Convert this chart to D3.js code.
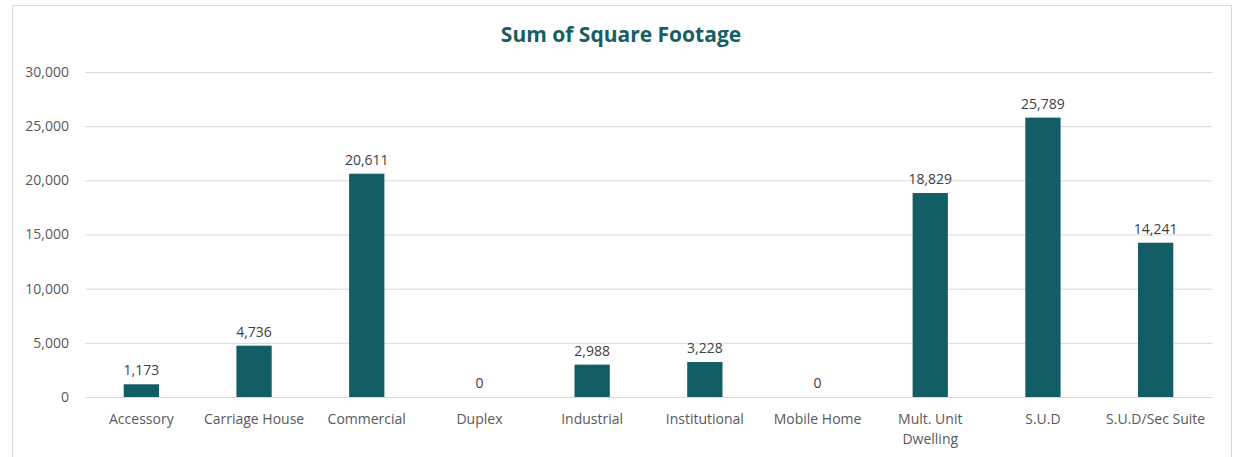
<!DOCTYPE html>
<html>
<head>
<meta charset="utf-8">
<script src="https://cdn.jsdelivr.net/npm/d3@7"></script>
<style>
  body { margin: 0; background: #fff; }
  text { font-family: "Open Sans", "Noto Sans", sans-serif; }
</style>
</head>
<body>
<div id="chart"></div>
<script>
"use strict";

// categories and values
var categories = ["Accessory", "Carriage House", "Commercial", "Duplex", "Industrial",
                  "Institutional", "Mobile Home", "Mult. Unit Dwelling", "S.U.D", "S.U.D/Sec Suite"];
var values = [1173, 4736, 20611, 0, 2988, 3228, 0, 18829, 25789, 14241];
var yTicks = [0, 5000, 10000, 15000, 20000, 25000, 30000];

var width = 1234, height = 457;
var margin = { left: 85, right: 22, top: 72, bottom: 60 };

var svg = d3.select("#chart").append("svg")
    .attr("width", width)
    .attr("height", height);

// chart area border
svg.append("rect")
    .attr("x", 12.5).attr("y", 5.5)
    .attr("width", 1219).attr("height", 470)
    .attr("fill", "none")
    .attr("stroke", "#d9d9d9");

var xScale = d3.scaleBand()
    .domain(categories)
    .range([margin.left, width - margin.right])
    .paddingInner(0.687)
    .paddingOuter(0.3435);

var yScale = d3.scaleLinear()
    .domain([0, 30000])
    .range([397, margin.top]);

var fmt = d3.format(",");

// gridlines + y axis labels
var yAxis = d3.axisLeft(yScale)
    .tickValues(yTicks)
    .tickSize(-(width - margin.right - margin.left))
    .tickPadding(16)
    .tickFormat(fmt);

svg.append("g")
    .attr("transform", "translate(" + margin.left + ",0)")
    .call(yAxis)
    .call(function(g) {
        g.select(".domain").remove();
        g.selectAll(".tick line").attr("stroke", "#d9d9d9");
        g.selectAll(".tick text")
            .attr("fill", "#595959")
            .style("font-size", "14px");
    });

// bars
svg.selectAll(".bar")
    .data(values)
    .enter().append("rect")
    .attr("class", "bar")
    .attr("x", function(d, i) { return xScale(categories[i]); })
    .attr("y", function(d) { return yScale(d); })
    .attr("width", xScale.bandwidth())
    .attr("height", function(d) { return yScale(0) - yScale(d); })
    .attr("fill", "#135e66");

// value labels
svg.selectAll(".val")
    .data(values)
    .enter().append("text")
    .attr("class", "val")
    .attr("x", function(d, i) { return xScale(categories[i]) + xScale.bandwidth() / 2; })
    .attr("y", function(d) { return yScale(d) - 9; })
    .attr("text-anchor", "middle")
    .attr("fill", "#404040")
    .style("font-size", "14px")
    .text(function(d) { return fmt(d); });

// category labels (wrap the long one like the original)
var xLabels = svg.selectAll(".cat")
    .data(categories)
    .enter().append("text")
    .attr("class", "cat")
    .attr("x", function(d) { return xScale(d) + xScale.bandwidth() / 2; })
    .attr("y", 424)
    .attr("text-anchor", "middle")
    .attr("fill", "#595959")
    .style("font-size", "14px");

xLabels.each(function(d) {
    var lines = d === "Mult. Unit Dwelling" ? ["Mult. Unit", "Dwelling"] : [d];
    var t = d3.select(this);
    lines.forEach(function(line, k) {
        t.append("tspan")
            .attr("x", t.attr("x"))
            .attr("dy", k === 0 ? 0 : 20)
            .text(line);
    });
});

// title
svg.append("text")
    .attr("x", 621)
    .attr("y", 42)
    .attr("text-anchor", "middle")
    .attr("fill", "#175e64")
    .style("font-size", "21px")
    .style("font-weight", "bold")
    .text("Sum of Square Footage");
</script>
</body>
</html>
